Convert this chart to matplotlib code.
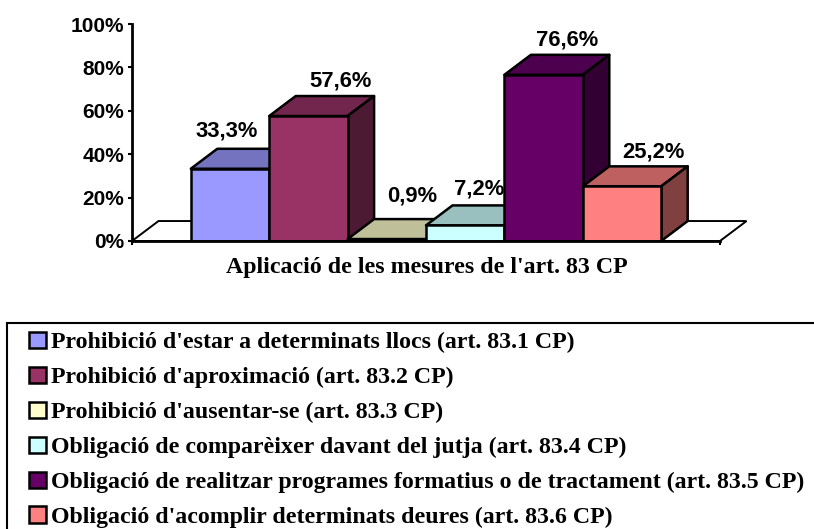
import matplotlib
matplotlib.use('Agg')
import matplotlib.pyplot as plt
from matplotlib.patches import Patch, Polygon, Rectangle

W, H = 814, 529

labels = ["Prohibició d'estar a determinats llocs (art. 83.1 CP)",
          "Prohibició d'aproximació (art. 83.2 CP)",
          "Prohibició d'ausentar-se (art. 83.3 CP)",
          "Obligació de comparèixer davant del jutja (art. 83.4 CP)",
          "Obligació de realitzar programes formatius o de tractament (art. 83.5 CP)",
          "Obligació d'acomplir determinats deures (art. 83.6 CP)"]
values = [33.3, 57.6, 0.9, 7.2, 76.6, 25.2]
value_text = ['33,3%', '57,6%', '0,9%', '7,2%', '76,6%', '25,2%']
colors = ['#9999FF', '#993366', '#FFFFCC', '#CCFFFF', '#660066', '#FF8080']
y_ticks = [0, 20, 40, 60, 80, 100]

# label offsets from the bar's front top centre, in pixels
label_dx = [-3, 32, 25, 14, 24, 31]
label_dy = [38, 35, 43, 36, 35, 34]

SANS = 'Liberation Sans'
SERIF = 'Liberation Serif'
DX = 0.338  # depth of the 3d effect, in x units
DY = 9.2    # same, in y units


def shade(color, f):
    r, g, b = matplotlib.colors.to_rgb(color)
    return (r * f, g * f, b * f)


fig = plt.figure(figsize=(W / 100, H / 100), dpi=100)
ax = fig.add_axes([132 / W, 1 - 241 / H, 588 / W, 217 / H])
ax.set_xlim(-1.25, 6.25)
ax.set_ylim(0, 100)
ax.patch.set_visible(False)

# floor
x0, x1 = ax.get_xlim()
ax.add_patch(Polygon([(x0, 0), (x0 + DX, DY), (x1 + DX, DY), (x1, 0)], closed=True,
                     facecolor='white', edgecolor='black', lw=1.4, clip_on=False, zorder=1))

# left to right so each front hides the side of the previous bar
for i, (v, c) in enumerate(zip(values, colors)):
    z = 2 + i
    l, r = i - 0.5, i + 0.5
    ax.add_patch(Polygon([(l, v), (l + DX, v + DY), (r + DX, v + DY), (r, v)], closed=True,
                         facecolor=shade(c, 0.75), edgecolor='black', lw=1.8,
                         joinstyle='round', clip_on=False, zorder=z))
    ax.add_patch(Polygon([(r, 0), (r + DX, DY), (r + DX, v + DY), (r, v)], closed=True,
                         facecolor=shade(c, 0.5), edgecolor='black', lw=1.8,
                         joinstyle='round', clip_on=False, zorder=z))
    ax.bar(i, v, width=1, color=c, edgecolor='black', linewidth=1.8, zorder=z + 0.5)
    ax.annotate(value_text[i], (i, v), xytext=(label_dx[i], label_dy[i]),
                textcoords='offset pixels', ha='center', va='center', family=SANS,
                fontweight='bold', fontsize=15.8, color='black', zorder=20,
                annotation_clip=False)

for s in ['top', 'right']:
    ax.spines[s].set_visible(False)
for s in ['left', 'bottom']:
    ax.spines[s].set_linewidth(2)
    ax.spines[s].set_zorder(15)

ax.set_yticks(y_ticks)
ax.set_yticklabels(['{}%'.format(t) for t in y_ticks], family=SANS, fontweight='bold', fontsize=15)
ax.set_xticks([x0, x1])
ax.set_xticklabels(['', ''])
ax.tick_params(axis='y', length=3, width=1.5, pad=2.5)
ax.tick_params(axis='x', length=3, width=1.5)

fig.text(426.5 / W, 1 - 268 / H, "Aplicació de les mesures de l'art. 83 CP", ha='center', va='center',
         family=SERIF, fontweight='bold', fontsize=17.2)

# legend frame runs off the right and bottom edge
fig.add_artist(Rectangle((6.5 / W, -0.1), 1, 1 - 323 / H + 0.1, transform=fig.transFigure,
                         facecolor='white', edgecolor='black', lw=1.5, zorder=0))
handles = [Patch(facecolor=c, edgecolor='black', linewidth=1.8) for c in colors]
fig.legend(handles, labels, loc='upper left', bbox_to_anchor=(29 / W, 1 - 332 / H), frameon=False,
           borderaxespad=0, borderpad=0, handlelength=0.71, handleheight=0.67, handletextpad=0.2,
           labelspacing=0.56, prop={'family': SERIF, 'weight': 'bold', 'size': 17.2})

fig.savefig('out.png', dpi=100)
